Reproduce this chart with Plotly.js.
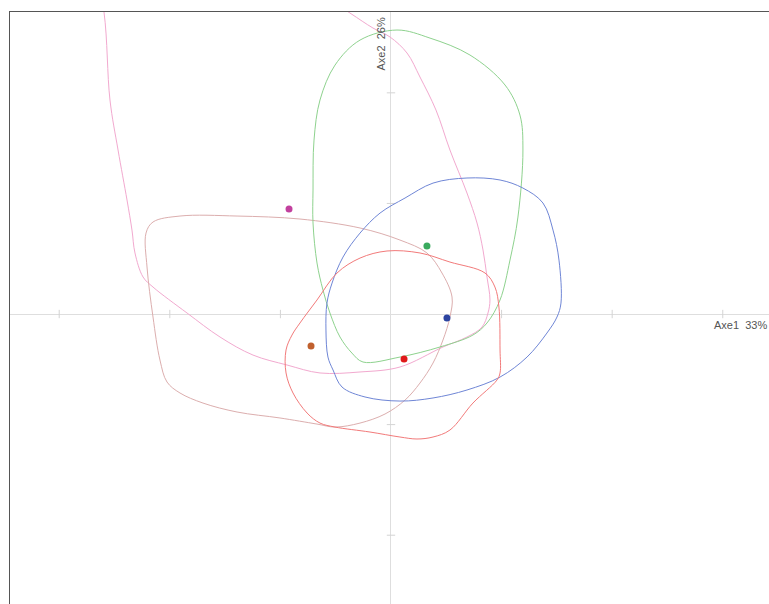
<!DOCTYPE html>
<html>
<head>
<meta charset="utf-8">
<script src="https://cdn.plot.ly/plotly-3.0.1.min.js"></script>
<style>
  html, body { margin: 0; padding: 0; background: #ffffff; overflow: hidden; }
  #plot { width: 769px; height: 604px; }
</style>
</head>
<body>
<div id="plot"></div>
<script>
// Group centroids on the first factorial plane
const groupNames  = ['A', 'B', 'C', 'D', 'E'];
const centroidX   = [-0.922, 0.325, 0.506, -0.723, 0.118];
const centroidY   = [ 0.949, 0.615, -0.036, -0.289, -0.407];
const pointColors = ['#c2409e', '#3aaa5e', '#2c44a0', '#c0602e', '#e01a1a'];

// Density contours, one per group (closed outlines)
const greenX = [0.054, 0.353, 0.714, 1.031, 1.166, 1.193, 1.148, 1.076, 0.986, 0.868, 0.741, 0.443, 0.081, -0.253, -0.353, -0.461, -0.552, -0.615, -0.669, -0.705, -0.705, -0.696, -0.642, -0.506, -0.280, 0.054];
const greenY = [2.568, 2.495, 2.342, 2.071, 1.799, 1.483, 0.877, 0.488, 0.127, -0.081, -0.190, -0.298, -0.389, -0.434, -0.353, -0.208, 0.009, 0.217, 0.461, 0.823, 1.121, 1.573, 1.935, 2.251, 2.477, 2.568];

const blueX = [0.687, 0.986, 1.193, 1.374, 1.465, 1.519, 1.537, 1.501, 1.410, 1.230, 0.986, 0.687, 0.380, 0.081, -0.235, -0.443, -0.524, -0.570, -0.588, -0.579, -0.533, -0.434, -0.280, -0.099, 0.127, 0.380, 0.687];
const blueY = [1.230, 1.212, 1.139, 1.004, 0.759, 0.488, 0.099, -0.027, -0.172, -0.389, -0.570, -0.687, -0.759, -0.787, -0.750, -0.660, -0.506, -0.389, -0.145, 0.099, 0.280, 0.515, 0.732, 0.913, 1.049, 1.184, 1.230];

const redX = [-0.036, 0.262, 0.533, 0.850, 0.940, 0.976, 0.986, 0.986, 0.958, 0.741, 0.533, 0.380, 0.235, 0.081, -0.190, -0.506, -0.642, -0.759, -0.886, -0.949, -0.949, -0.895, -0.823, -0.669, -0.488, -0.280, -0.036];
const redY = [0.570, 0.552, 0.470, 0.371, 0.244, 0.063, -0.325, -0.533, -0.597, -0.805, -1.049, -1.112, -1.130, -1.112, -1.067, -1.022, -0.986, -0.895, -0.714, -0.533, -0.325, -0.190, -0.081, 0.127, 0.371, 0.506, 0.570];

const brownX = [0.262, 0.127, -0.054, -0.280, -0.506, -0.669, -1.004, -1.392, -1.700, -1.908, -2.025, -2.089, -2.152, -2.206, -2.215, -2.152, -1.908, -1.392, -0.823, -0.280, 0.081, 0.325, 0.461, 0.552, 0.533, 0.470, 0.380, 0.262];
const brownY = [-0.624, -0.778, -0.904, -0.986, -1.022, -0.995, -0.940, -0.886, -0.805, -0.714, -0.615, -0.416, -0.027, 0.425, 0.732, 0.832, 0.886, 0.886, 0.859, 0.778, 0.669, 0.552, 0.371, 0.154, -0.027, -0.235, -0.443, -0.624];

const pinkX = [-2.722, -2.595, -2.541, -2.468, -2.387, -2.342, -2.315, -2.242, -2.152, -1.844, -1.546, -1.248, -0.940, -0.642, -0.280, 0.081, 0.470, 0.687, 0.823, 0.877, 0.895, 0.868, 0.832, 0.778, 0.687, 0.533, 0.407, 0.262, 0.145, -0.009, -0.163, -0.371, -0.823, -1.727, -2.722];
const pinkY = [3.382, 2.731, 1.935, 1.483, 1.031, 0.759, 0.552, 0.335, 0.244, 0.009, -0.208, -0.371, -0.461, -0.533, -0.524, -0.479, -0.298, -0.208, -0.118, 0.009, 0.127, 0.335, 0.579, 0.823, 1.094, 1.483, 1.844, 2.143, 2.360, 2.505, 2.586, 2.722, 3.020, 3.382, 3.382];

// Small tick marks drawn on the two central axes
const axisTicksX = [-3, -2, -1, 1, 2, 3];
const axisTicksY = [-2, -1, 1, 2];

const axis1Label = 'Axe1  33%';
const axis2Label = 'Axe2  26%';

function contour(x, y, color) {
  return {
    x: x, y: y, type: 'scatter', mode: 'lines',
    line: { color: color, width: 1, shape: 'spline', smoothing: 1 },
    hoverinfo: 'skip', showlegend: false
  };
}

const traces = [
  {
    x: axisTicksX, y: axisTicksX.map(() => 0), type: 'scatter', mode: 'markers',
    marker: { symbol: 'line-ns', size: 6, line: { color: '#d4d4d4', width: 1 } },
    hoverinfo: 'skip', showlegend: false
  },
  {
    x: axisTicksY.map(() => 0), y: axisTicksY, type: 'scatter', mode: 'markers',
    marker: { symbol: 'line-ew', size: 6, line: { color: '#d4d4d4', width: 1 } },
    hoverinfo: 'skip', showlegend: false
  },
  contour(pinkX, pinkY, '#f2a9cf'),
  contour(brownX, brownY, '#dcaeae'),
  contour(greenX, greenY, '#8ed28e'),
  contour(blueX, blueY, '#6f86d6'),
  contour(redX, redY, '#f27a7a'),
  {
    x: centroidX, y: centroidY, text: groupNames, type: 'scatter', mode: 'markers',
    marker: { color: pointColors, size: 7 },
    hoverinfo: 'text', showlegend: false
  }
];

const layout = {
  width: 769, height: 604,
  margin: { l: 10, r: 0, t: 12, b: 0, pad: 0 },
  paper_bgcolor: '#ffffff', plot_bgcolor: '#ffffff',
  xaxis: {
    range: [-3.445, 3.418], showgrid: false, showticklabels: false, ticks: '',
    zeroline: true, zerolinecolor: '#dedede', zerolinewidth: 1,
    showline: true, side: 'top', linecolor: '#555555', linewidth: 1.5
  },
  yaxis: {
    range: [-2.622, 2.731], showgrid: false, showticklabels: false, ticks: '',
    zeroline: true, zerolinecolor: '#dedede', zerolinewidth: 1,
    showline: true, side: 'left', linecolor: '#555555', linewidth: 1.5
  },
  annotations: [
    {
      text: axis1Label, xref: 'paper', yref: 'y', x: 1, y: 0,
      xanchor: 'right', yanchor: 'top', yshift: -3, showarrow: false,
      font: { family: 'Liberation Sans, Arial, sans-serif', size: 11, color: '#555555' }
    },
    {
      text: axis2Label, xref: 'x', yref: 'paper', x: 0, y: 1, textangle: -90,
      xanchor: 'right', yanchor: 'top', xshift: -2, yshift: -3, showarrow: false,
      font: { family: 'Liberation Sans, Arial, sans-serif', size: 11, color: '#555555' }
    }
  ],
  showlegend: false
};

Plotly.newPlot('plot', traces, layout, { staticPlot: true, displayModeBar: false });
</script>
</body>
</html>
